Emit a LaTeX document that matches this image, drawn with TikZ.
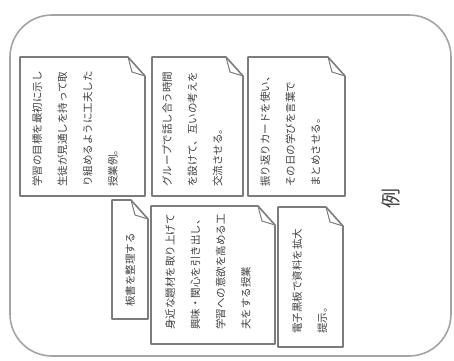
\documentclass[tikz,border=0pt]{standalone}
\usepackage{fontspec}
\newfontfamily\jfont{Noto Sans CJK JP}
\usetikzlibrary{positioning}
\definecolor{rim}{HTML}{A3A3A3}
\definecolor{edge}{HTML}{7C7C7C}
\definecolor{ink}{HTML}{404040}
% dog-eared card: left, top, right, bottom (pixels, y downwards)
\newcommand{\card}[4]{%
  \filldraw[edge, fill=white, line width=1.6pt, line join=round]
    (#1,#2) -- (#3-17,#2) -- (#3,#2+19) -- (#3,#4) -- (#1,#4) -- cycle;
  \draw[edge, line width=1pt, line join=round] (#3-17,#2) -- (#3-13,#2+15) -- (#3,#2+19);}

\begin{document}
\begin{tikzpicture}[x=1pt, y=-1pt,
    txt/.style={rotate=90, anchor=north west, align=left, inner sep=0pt,
      text=ink, font=\jfont\fontsize{10.5}{25.3}\selectfont}]
  \useasboundingbox (0,0) rectangle (454,360);
  \draw[rim, line width=1.6pt, rounded corners=42pt] (10,15) rectangle (451,356);

  \card{20}{57}{145}{196}
  \card{152}{57}{243}{196}
  \card{248}{57}{345}{196}
  \card{112}{200}{148}{319}
  \card{151}{206}{275}{344}
  \card{278}{207}{343}{347}

  \node[txt] (t1) at (32,187) {学習の目標を最初に示し\\生徒が見通しを持って取\\り組めるように工夫した\\授業例。};
  \node[txt] (t2) at (162,187) {グループで話し合う時間\\を設けて、互いの考えを\\交流させる。};
  \node[txt] (t3) at (260,187) {振り返りカードを使い、\\その日の学びを言葉で\\まとめさせる。};
  \node[txt] (t4) at (125,307) {板書を整理する};
  \node[txt] (t5) at (165,330) {身近な題材を取り上げて\\興味・関心を引き出し、\\学習への意欲を高める工\\夫をする授業};
  \node[txt] (t6) at (292,334) {電子黒板で資料を拡大\\提示。};

  \node[rotate=90, text=ink, font=\jfont\fontsize{20}{20}\selectfont] (lbl) at (391,198) {例};
\end{tikzpicture}
\end{document}
